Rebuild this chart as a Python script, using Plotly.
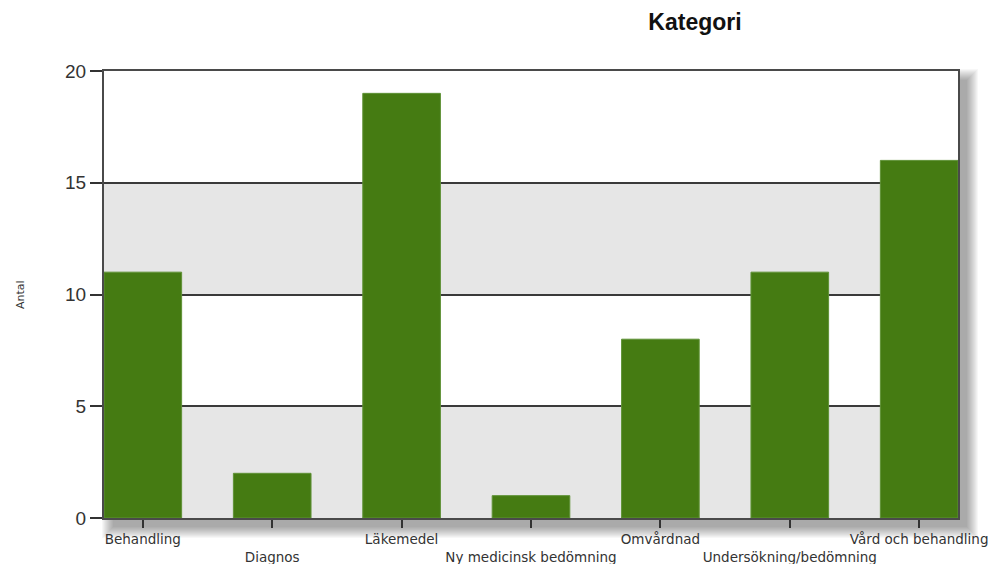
import plotly.graph_objects as go

categories = ["Behandling", "Diagnos", "Läkemedel", "Ny medicinsk bedömning",
              "Omvårdnad", "Undersökning/bedömning", "Vård och behandling"]
values = [11, 2, 19, 1, 8, 11, 16]
y_ticks = [0, 5, 10, 15, 20]
title_text = "Kategori"
y_title = "Antal"

# page offset (body margin) of the rendered page
OFF = 8
W, H = 1002 - OFF, 564 - OFF
# plot area in figure pixels
L, R, T, B = 104 - OFF, 958 - OFF, 71 - OFF, 518 - OFF
pw, ph = R - L, B - T

def px_x(p):
    return (p - OFF - L) / pw

def px_y(p):
    return (B - (p - OFF)) / ph

ticktext = [c if i % 2 == 0 else "<br>" + c for i, c in enumerate(categories)]

fig = go.Figure()
fig.add_trace(go.Bar(
    x=list(range(len(categories))), y=values, width=0.6,
    marker=dict(color="#457b12", line=dict(color="#5f9236", width=1)),
    hoverinfo="y",
))

shapes = []
# drop shadow
for s in range(0, 12):
    off = 9
    shapes.append(dict(
        type="rect", xref="paper", yref="paper", layer="below",
        x0=px_x(104 + off - s), x1=px_x(958 + off + s),
        y0=px_y(518 + off + s), y1=px_y(71 + off - s),
        fillcolor="rgba(0,0,0,0.03)", line=dict(width=0),
    ))
# white plot area over the shadow
shapes.append(dict(
    type="rect", xref="paper", yref="paper", layer="below",
    x0=0, x1=1, y0=0, y1=1, fillcolor="white", line=dict(width=0),
))
# alternating bands
for i in range(len(y_ticks) - 1):
    if i % 2 == 0:
        shapes.append(dict(
            type="rect", xref="paper", yref="y", layer="below",
            x0=0, x1=1, y0=y_ticks[i], y1=y_ticks[i + 1],
            fillcolor="#e6e6e6", line=dict(width=0),
        ))

fig.update_layout(
    width=W, height=H,
    margin=dict(l=L, r=W - R, t=T, b=H - B, pad=0, autoexpand=False),
    paper_bgcolor="white", plot_bgcolor="rgba(0,0,0,0)",
    showlegend=False,
    shapes=shapes,
    title=dict(text="<b>" + title_text + "</b>", x=(695 - OFF) / W, xanchor="center",
               y=1 - (22 - OFF) / H, yanchor="middle", automargin=False,
               font=dict(family="Arial, Liberation Sans", size=23, color="#111")),
    xaxis=dict(
        range=[-0.3, len(categories) - 0.7],
        tickmode="array", tickvals=list(range(len(categories))), ticktext=ticktext,
        tickangle=0, automargin=False,
        ticks="outside", ticklen=8, tickwidth=2, tickcolor="#333",
        tickfont=dict(family="DejaVu Sans", size=13.5, color="#333"),
        showline=True, linecolor="#4a4a4a", linewidth=2, mirror=True,
        showgrid=False, zeroline=False, fixedrange=True,
    ),
    yaxis=dict(
        range=[0, 20], tickmode="array", tickvals=y_ticks, automargin=False,
        ticks="outside", ticklen=12, tickwidth=2, tickcolor="#333",
        tickfont=dict(family="Arial, Liberation Sans", size=19, color="#333"),
        showline=True, linecolor="#4a4a4a", linewidth=2, mirror=True,
        showgrid=True, gridcolor="#3a3a3a", gridwidth=1.5,
        zeroline=False, fixedrange=True,
    ),
    annotations=[dict(
        text=y_title, xref="paper", yref="paper", x=px_x(20), y=px_y(295),
        xanchor="center", yanchor="middle", textangle=-90, showarrow=False,
        font=dict(family="DejaVu Sans", size=11, color="#333"),
    )],
)

fig.write_html("out.html")
